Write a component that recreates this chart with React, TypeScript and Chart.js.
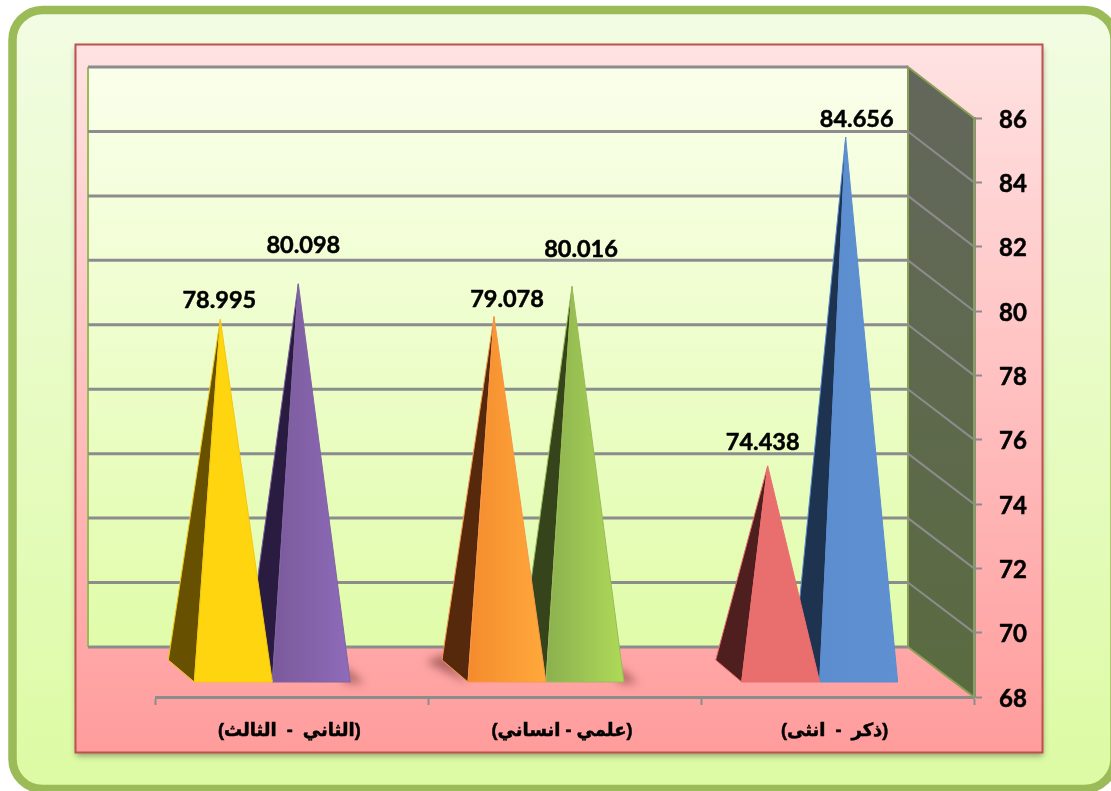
import React, { useEffect, useRef } from "react";
import { Chart, registerables } from "chart.js";

Chart.register(...registerables);

const categories = ["(ذكر  -  انثى)", "(علمي - انساني)", "(الثاني  -  الثالث)"];
const leftSeries = [74.438, 79.078, 78.995];
const rightSeries = [84.656, 80.016, 80.098];
const yTicksMin = 68;
const yTicksMax = 86;
const yTicksStep = 2;

const leftFaces = [
  { front: ["#E96F6F", "#E96F6F"], side: "#4F1F1F", edge: "#E96F6F" },
  { front: ["#F48B2E", "#FFA93B"], side: "#56290C", edge: "#F79646" },
  { front: ["#FFD510", "#FFD510"], side: "#675000", edge: "#F2C810" },
];
const rightFaces = [
  { front: ["#5B8DCF", "#5F90D2"], side: "#1E3350", edge: "#5B8DCF" },
  { front: ["#8BB04F", "#AEDA58"], side: "#35441A", edge: "#9BBB59" },
  { front: ["#7A5A9A", "#8F6BBA"], side: "#2A1B40", edge: "#8064A2" },
];
// label nudges relative to each pyramid tip [dx, dy]
const leftNudge = [[-5, -23], [13, -17], [-1, -19]];
const rightNudge = [[11, -18], [9, -37], [5, -38]];
const groundShadow = [[0, 0], [1, 1], [0, 1]]; // categories with a cast shadow: left / right

const NUM_FONT = 'bold 23.5px Lato, "Open Sans", sans-serif';
const GRID = "#8C8C8C";
const DEPTH_X = 66;
const DEPTH_Y = 50;

function rr(c: CanvasRenderingContext2D, x: number, y: number, w: number, h: number, r: number) {
  c.beginPath();
  c.moveTo(x + r, y);
  c.arcTo(x + w, y, x + w, y + h, r);
  c.arcTo(x + w, y + h, x, y + h, r);
  c.arcTo(x, y + h, x, y, r);
  c.arcTo(x, y, x + w, y, r);
  c.closePath();
}

const scenePlugin = {
  id: "scene",
  beforeDraw(chart: any) {
    const c: CanvasRenderingContext2D = chart.ctx;
    c.save();
    c.fillStyle = "#fff";
    c.fillRect(0, 0, chart.width, chart.height);
    // outer card
    const g = c.createLinearGradient(0, 10, 0, 789);
    g.addColorStop(0, "#F2FCE3");
    g.addColorStop(1, "#DCFBA3");
    rr(c, 12.5, 10, 1102, 779, 30);
    c.fillStyle = g;
    c.fill();
    c.strokeStyle = "#9BBB59";
    c.lineWidth = 8.5;
    c.stroke();
    // red panel
    const p = c.createLinearGradient(0, 44, 0, 753);
    p.addColorStop(0, "#FFE2E2");
    p.addColorStop(1, "#FF9C9C");
    c.save();
    c.shadowColor = "rgba(0,0,0,0.35)";
    c.shadowBlur = 6;
    c.shadowOffsetY = 3;
    c.fillStyle = p;
    c.fillRect(75.5, 44.5, 967, 708);
    c.restore();
    c.strokeStyle = "#C0504D";
    c.lineWidth = 2;
    c.strokeRect(75.5, 44.5, 967, 708);
    c.restore();
  },
  beforeDatasetsDraw(chart: any) {
    const c: CanvasRenderingContext2D = chart.ctx;
    const { chartArea: a, scales } = chart;
    const y = scales.y;
    const backL = a.left - 68;
    const backR = a.right - DEPTH_X;
    const backT = a.top - 51;
    const backB = a.bottom - DEPTH_Y;
    c.save();
    // back wall
    const w = c.createLinearGradient(0, backT, 0, backB);
    w.addColorStop(0, "#FAFFEB");
    w.addColorStop(1, "#E0FCA9");
    c.fillStyle = w;
    c.fillRect(backL, backT, backR - backL, backB - backT);
    c.strokeStyle = "#9BBB59";
    c.lineWidth = 2;
    c.beginPath();
    c.moveTo(backL, backT);
    c.lineTo(backL, backB);
    c.stroke();
    // side wall
    const s = c.createLinearGradient(0, backT, 0, a.bottom);
    s.addColorStop(0, "#63675C");
    s.addColorStop(1, "#5A6B40");
    c.beginPath();
    c.moveTo(backR, backT);
    c.lineTo(a.right, a.top);
    c.lineTo(a.right, a.bottom);
    c.lineTo(backR, backB);
    c.closePath();
    c.fillStyle = s;
    c.fill();
    c.strokeStyle = "#8AA055";
    c.lineWidth = 2;
    c.stroke();
    // grid lines
    for (const t of y.ticks) {
      const py = y.getPixelForValue(t.value);
      const by = py - (py === a.top ? 51 : DEPTH_Y + (a.bottom - py) * (1 / 579));
      c.strokeStyle = GRID;
      c.lineWidth = 3;
      c.beginPath();
      c.moveTo(backL, by);
      c.lineTo(backR, by);
      c.stroke();
      if (t.value !== yTicksMin && t.value !== yTicksMax) {
        c.lineWidth = 2;
        c.beginPath();
        c.moveTo(backR, by);
        c.lineTo(a.right, py);
        c.stroke();
      }
    }
    c.restore();
  },
  afterDatasetsDraw(chart: any) {
    const c: CanvasRenderingContext2D = chart.ctx;
    const y = chart.scales.y;
    const items: any[] = [];
    chart.data.datasets.forEach((ds: any, di: number) => {
      chart.getDatasetMeta(di).data.forEach((el: any, i: number) => {
        items.push({ el, i, di, v: ds.data[i] });
      });
    });
    items.sort((p, q) => q.el.x - p.el.x);
    c.save();
    for (const { el, i, di, v } of items) {
      const st = (di === 0 ? leftFaces : rightFaces)[i];
      const half = el.width / 2;
      const cx = el.x - 19 + (1 - i);
      const fl = cx - half;
      const fr = cx + half;
      const fy = y.bottom - 15;
      const bl = fl - 26;
      const by = fy - 22;
      const tx = cx - 13;
      const ty = y.getPixelForValue(v) - 24;
      const cast = groundShadow[i][di];
      if (cast) {
        c.save();
        c.filter = "blur(4px)";
        c.fillStyle = "rgba(110,50,50,0.55)";
        c.beginPath();
        if (di === 1) {
          c.moveTo(fr - 6, fy - 16);
          c.lineTo(fr + 14, fy + 1);
          c.lineTo(fr - 6, fy + 1);
        } else {
          c.moveTo(bl + 2, by - 6);
          c.lineTo(bl - 16, by + 2);
          c.lineTo(fl, fy + 1);
        }
        c.closePath();
        c.fill();
        c.restore();
      }
      c.lineJoin = "round";
      c.lineWidth = 1;
      c.strokeStyle = st.edge;
      c.fillStyle = st.side;
      c.beginPath();
      c.moveTo(tx, ty);
      c.lineTo(fl, fy);
      c.lineTo(bl, by);
      c.closePath();
      c.fill();
      c.stroke();
      const g = c.createLinearGradient(fl, 0, fr, 0);
      g.addColorStop(0, st.front[0]);
      g.addColorStop(1, st.front[1]);
      c.fillStyle = g;
      c.beginPath();
      c.moveTo(tx, ty);
      c.lineTo(fl, fy);
      c.lineTo(fr, fy);
      c.closePath();
      c.fill();
      c.stroke();
    }
    // value labels
    c.fillStyle = "#000";
    c.strokeStyle = "#000";
    c.lineWidth = 0.5;
    c.font = NUM_FONT;
    c.textAlign = "center";
    c.textBaseline = "middle";
    for (const { el, i, di, v } of items) {
      const n = (di === 0 ? leftNudge : rightNudge)[i];
      const tx = el.x - 19 + (1 - i) - 13;
      const ty = y.getPixelForValue(v) - 24;
      c.fillText(v.toFixed(3), tx + n[0], ty + n[1]);
      c.strokeText(v.toFixed(3), tx + n[0], ty + n[1]);
    }
    c.restore();
  },
};

export default function App() {
  const ref = useRef<HTMLCanvasElement>(null);
  useEffect(() => {
    const chart = new Chart(ref.current as HTMLCanvasElement, {
      type: "bar",
      data: {
        labels: categories,
        datasets: [
          { label: "a", data: leftSeries, backgroundColor: "transparent", borderWidth: 0 },
          { label: "b", data: rightSeries, backgroundColor: "transparent", borderWidth: 0 },
        ],
      },
      plugins: [scenePlugin as any],
      options: {
        animation: false,
        responsive: false,
        devicePixelRatio: 1,
        layout: { padding: { left: 156, top: 118, right: 37, bottom: 34 } },
        plugins: { legend: { display: false }, tooltip: { enabled: false }, title: { display: false } },
        datasets: { bar: { barPercentage: 1, categoryPercentage: 0.572 } },
        scales: {
          x: {
            reverse: true,
            offset: true,
            grid: { display: true, drawOnChartArea: false, offset: true, tickLength: 8, tickColor: GRID, tickWidth: 2, color: GRID },
            border: { display: true, color: GRID, width: 3 },
            ticks: {
              autoSkip: false,
              maxRotation: 0,
              padding: 15,
              labelOffset: -3,
              color: "#000",
              textStrokeColor: "#000",
              textStrokeWidth: 0.5,
              font: { family: '"Liberation Sans", "DejaVu Sans", sans-serif', size: 18, weight: "bold" },
            },
            afterFit(s: any) { s.height = 60; },
          },
          y: {
            position: "right",
            min: yTicksMin,
            max: yTicksMax,
            grid: { display: true, drawOnChartArea: false, tickLength: 8, tickColor: GRID, tickWidth: 2, color: GRID },
            border: { display: true, color: GRID, width: 3 },
            ticks: {
              stepSize: yTicksStep,
              padding: 17,
              labelOffset: 2,
              color: "#000",
              textStrokeColor: "#000",
              textStrokeWidth: 0.5,
              font: { family: 'Lato, "Open Sans", sans-serif', size: 24, weight: "bold" },
            },
            afterFit(s: any) { s.width = 100; },
          },
        },
      } as any,
    });
    return () => chart.destroy();
  }, []);
  return (
    <div style={{ position: "absolute", left: 0, top: 0, width: 1111, height: 791, overflow: "hidden" }}>
      <canvas ref={ref} width={1111} height={791} style={{ display: "block" }} />
    </div>
  );
}
